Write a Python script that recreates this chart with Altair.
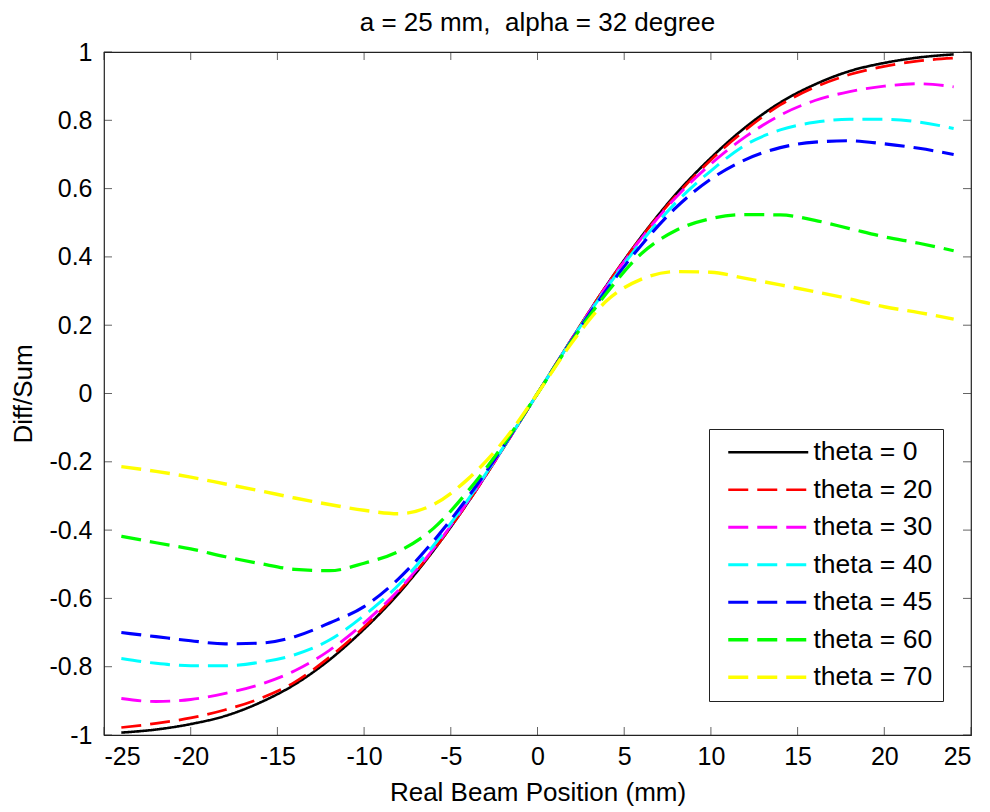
import altair as alt
import pandas as pd

# ---------------- data ----------------
x_mm = [-24, -22, -20, -18, -16, -14, -12, -10, -8, -6, -4, -2, 0,
        2, 4, 6, 8, 10, 12, 14, 16, 18, 20, 22, 24]

labels = ["theta = 0", "theta = 20", "theta = 30", "theta = 40",
          "theta = 45", "theta = 60", "theta = 70"]
colors = ["#000000", "#ff0000", "#ff00ff", "#00ffff", "#0000ff", "#00ff00", "#ffff00"]

y_theta0 = [-0.993, -0.984, -0.968, -0.944, -0.905, -0.852, -0.780, -0.690, -0.585, -0.460, -0.318, -0.162, 0.0,
            0.162, 0.318, 0.460, 0.585, 0.690, 0.780, 0.852, 0.905, 0.944, 0.968, 0.984, 0.993]
y_theta20 = [-0.978, -0.966, -0.950, -0.926, -0.893, -0.845, -0.772, -0.684, -0.580, -0.458, -0.318, -0.162, 0.0,
             0.162, 0.318, 0.458, 0.580, 0.684, 0.772, 0.845, 0.897, 0.934, 0.958, 0.974, 0.982]
y_theta30 = [-0.893, -0.902, -0.896, -0.878, -0.852, -0.812, -0.752, -0.672, -0.575, -0.455, -0.315, -0.161, 0.0,
             0.161, 0.315, 0.455, 0.575, 0.672, 0.752, 0.815, 0.858, 0.884, 0.900, 0.907, 0.898]
y_theta40 = [-0.776, -0.790, -0.797, -0.797, -0.787, -0.765, -0.722, -0.650, -0.560, -0.445, -0.310, -0.160, 0.0,
             0.160, 0.310, 0.445, 0.560, 0.652, 0.728, 0.772, 0.794, 0.803, 0.803, 0.795, 0.776]
y_theta45 = [-0.700, -0.712, -0.724, -0.733, -0.731, -0.712, -0.672, -0.624, -0.542, -0.432, -0.303, -0.157, 0.0,
             0.158, 0.305, 0.435, 0.545, 0.628, 0.685, 0.720, 0.736, 0.740, 0.731, 0.718, 0.700]
y_theta60 = [-0.418, -0.437, -0.455, -0.478, -0.498, -0.515, -0.519, -0.497, -0.462, -0.395, -0.285, -0.152, 0.0,
             0.155, 0.295, 0.410, 0.478, 0.512, 0.524, 0.523, 0.507, 0.483, 0.459, 0.440, 0.418]
y_theta70 = [-0.214, -0.228, -0.245, -0.265, -0.285, -0.306, -0.325, -0.342, -0.352, -0.325, -0.250, -0.142, 0.0,
             0.150, 0.272, 0.335, 0.357, 0.355, 0.337, 0.318, 0.298, 0.277, 0.254, 0.237, 0.218]

series = [y_theta0, y_theta20, y_theta30, y_theta40, y_theta45, y_theta60, y_theta70]

x_ticks = [-25, -20, -15, -10, -5, 0, 5, 10, 15, 20, 25]
y_ticks = [-1, -0.8, -0.6, -0.4, -0.2, 0, 0.2, 0.4, 0.6, 0.8, 1]

title_text = "a = 25 mm,\u00a0 alpha = 32 degree"

# ---------------- build table ----------------
rows = []
for k, (lab, ys) in enumerate(zip(labels, series)):
    for xv, yv in zip(x_mm, ys):
        rows.append({"x": xv, "y": yv, "series": lab, "k": k})
df = pd.DataFrame(rows)

W, H = 867, 683
FONT = "Liberation Sans"
FS = 25
FS_T = 26
FRAME = "#222222"

dashes = [[1, 0]] + [[20, 9]] * 6
widths = [2.6] + [3.4] * 6

xs = alt.Scale(domain=[-25, 25], nice=False, zero=False)
ys = alt.Scale(domain=[-1, 1], nice=False, zero=False)

x_axis = alt.Axis(
    values=x_ticks, title="Real Beam Position (mm)", ticks=False, domain=False, grid=False,
    labelPadding=9, labelExpr="'' + datum.value", labelFont=FONT, labelFontSize=FS,
    labelColor="black", titleFont=FONT, titleFontSize=FS_T, titleFontWeight="normal",
    titleColor="black", titlePadding=10)
y_axis = alt.Axis(
    values=y_ticks, title="Diff/Sum", ticks=False, domain=False, grid=False,
    labelPadding=12, labelExpr="'' + datum.value", labelFont=FONT, labelFontSize=FS,
    labelColor="black", titleFont=FONT, titleFontSize=FS_T, titleFontWeight="normal",
    titleColor="black", titlePadding=12)

leg = alt.Legend(
    title=None, orient="none", legendX=605, legendY=377,
    fillColor="white", strokeColor=FRAME,
    padding=10, symbolType="M-4,0H4", symbolSize=400, symbolOffset=36,
    symbolStrokeWidth=3, labelFontSize=26.5, labelFont=FONT,
    labelColor="black", labelOffset=32, rowPadding=10.5,
)

lines = alt.Chart(df).mark_line(interpolate="monotone").encode(
    x=alt.X("x:Q", scale=xs, axis=x_axis),
    y=alt.Y("y:Q", scale=ys, axis=y_axis),
    color=alt.Color("series:N", scale=alt.Scale(domain=labels, range=colors), legend=leg),
    strokeDash=alt.StrokeDash("series:N", scale=alt.Scale(domain=labels, range=dashes), legend=leg),
    strokeWidth=alt.StrokeWidth("series:N", scale=alt.Scale(domain=labels, range=widths), legend=None),
    detail="k:O",
)

tx = pd.DataFrame({"x": x_ticks})
ty = pd.DataFrame({"y": y_ticks})

tick_bottom = alt.Chart(tx).mark_tick(orient="vertical", size=8, thickness=1, color=FRAME).encode(
    x=alt.X("x:Q", scale=xs, axis=x_axis), y=alt.value(H - 4))
tick_top = alt.Chart(tx).mark_tick(orient="vertical", size=8, thickness=1, color=FRAME).encode(
    x=alt.X("x:Q", scale=xs, axis=x_axis), y=alt.value(4))
tick_left = alt.Chart(ty).mark_tick(orient="horizontal", size=8, thickness=1, color=FRAME).encode(
    y=alt.Y("y:Q", scale=ys, axis=y_axis), x=alt.value(4))
tick_right = alt.Chart(ty).mark_tick(orient="horizontal", size=8, thickness=1, color=FRAME).encode(
    y=alt.Y("y:Q", scale=ys, axis=y_axis), x=alt.value(W - 4))

chart = alt.layer(lines, tick_bottom, tick_top, tick_left, tick_right).properties(
    width=W, height=H,
    title=alt.TitleParams(title_text, font=FONT, fontSize=FS_T, fontWeight="normal",
                          color="black", anchor="middle", offset=4),
    autosize="none",
    padding={"left": 96, "top": 44, "right": 8, "bottom": 74},
    background="white",
).configure_view(stroke=FRAME, strokeWidth=1.2)

chart.save("out.html", embed_options={"renderer": "svg", "actions": False})
